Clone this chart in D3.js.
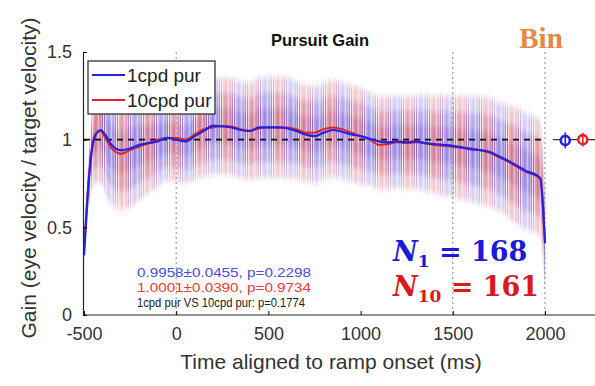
<!DOCTYPE html>
<html>
<head>
<meta charset="utf-8">
<script src="https://cdn.jsdelivr.net/npm/d3@7"></script>
<style>
  body { margin: 0; background: #fff; }
  text { font-family: "Liberation Sans", Arial, sans-serif; }
</style>
</head>
<body>
<div id="chart"></div>
<script>
// time points (ms) for the smoothed means
var times = [-500, -480, -460, -440, -410, -380, -350, -300, -250, -200, -150, -100, -50, 0, 50, 100, 150, 200, 250, 300, 350, 400, 450, 500, 550, 600, 650, 700, 750, 800, 850, 900, 950, 1000, 1050, 1100, 1150, 1200, 1250, 1300, 1350, 1400, 1450, 1500, 1550, 1600, 1650, 1700, 1750, 1800, 1850, 1900, 1950, 1975, 1990, 2000];

var gain1 = [0.34, 0.68, 0.92, 1.02, 1.055, 1.02, 0.97, 0.94, 0.95, 0.97, 0.98, 0.99, 1.01, 1.00, 0.99, 1.02, 1.05, 1.08, 1.075, 1.07, 1.055, 1.05, 1.07, 1.07, 1.07, 1.065, 1.05, 1.03, 1.02, 1.04, 1.055, 1.045, 1.03, 1.02, 1.005, 0.99, 0.985, 0.99, 0.985, 0.99, 0.98, 0.975, 0.97, 0.965, 0.955, 0.945, 0.94, 0.93, 0.905, 0.88, 0.85, 0.82, 0.80, 0.78, 0.60, 0.41];
var gain10 = [0.36, 0.70, 0.93, 1.03, 1.05, 1.00, 0.95, 0.92, 0.94, 0.96, 0.98, 1.00, 1.01, 1.01, 1.00, 1.03, 1.06, 1.07, 1.08, 1.075, 1.06, 1.05, 1.065, 1.07, 1.07, 1.07, 1.06, 1.04, 1.04, 1.06, 1.07, 1.06, 1.04, 1.02, 1.00, 0.97, 0.975, 0.985, 0.98, 0.985, 0.98, 0.97, 0.965, 0.96, 0.955, 0.95, 0.94, 0.925, 0.90, 0.875, 0.845, 0.815, 0.795, 0.775, 0.61, 0.42];
// half-width of the trial-to-trial spread
var spread = [0.03, 0.12, 0.2, 0.25, 0.27, 0.3, 0.3, 0.3, 0.3, 0.28, 0.26, 0.24, 0.22, 0.22, 0.22, 0.23, 0.24, 0.25, 0.25, 0.25, 0.25, 0.25, 0.26, 0.26, 0.26, 0.26, 0.25, 0.25, 0.25, 0.25, 0.25, 0.25, 0.25, 0.25, 0.24, 0.24, 0.24, 0.24, 0.24, 0.24, 0.25, 0.25, 0.26, 0.26, 0.27, 0.27, 0.28, 0.28, 0.28, 0.29, 0.3, 0.3, 0.3, 0.3, 0.28, 0.25];

var seriesNames = ["1cpd pur", "10cpd pur"];
var seriesColors = ["#2323e6", "#e62323"];
var binMeans = [0.9958, 1.0001];
var binErrs = [0.0455, 0.0390];
var binTimes = [2110, 2205];
var statLines = ["0.9958\u00b10.0455, p=0.2298", "1.0001\u00b10.0390, p=0.9734", "1cpd pur VS 10cpd pur: p=0.1774"];
var statColors = ["#4a4aee", "#ee3a3a", "#222"];
var xTicks = [-500, 0, 500, 1000, 1500, 2000];
var yTicks = [0, 0.5, 1, 1.5];
var vLines = [0, 1500, 2000];

var width = 595, height = 386;
var svg = d3.select("#chart").append("svg").attr("width", width).attr("height", height);

var x = d3.scaleLinear().domain([-500, 2000]).range([84, 545]);
var y = d3.scaleLinear().domain([0, 1.5]).range([315, 52]);

// stripe pattern + vertical blur for the noisy spread
var defs = svg.append("defs");
defs.append("filter").attr("id", "soft").append("feGaussianBlur").attr("stdDeviation", "0.3 2.5");
var ops = [0.55, 0.1, 0.3, 0.05, 0.65, 0.2, 0.4, 0.08, 0.5, 0.15, 0.25, 0.6, 0.05];
seriesColors.forEach(function(c, i) {
  var p = defs.append("pattern").attr("id", "stripe" + i)
    .attr("patternUnits", "userSpaceOnUse").attr("width", ops.length).attr("height", 40)
    .attr("x", i * 5);
  ops.forEach(function(o, k) {
    p.append("rect").attr("x", k).attr("y", 0).attr("width", 1).attr("height", 40)
      .attr("fill", c).attr("opacity", o);
  });
});

var means = [gain1, gain10];
var bands = svg.append("g").attr("filter", "url(#soft)");
[1, 0].forEach(function(i) {
  var m = means[i];
  [1.1, 0.75, 0.4].forEach(function(f) {
    var area = d3.area()
      .x(function(d, k) { return x(times[k]); })
      .y0(function(d, k) { return y(d - spread[k] * f); })
      .y1(function(d, k) { return y(d + spread[k] * f); })
      .curve(d3.curveMonotoneX);
    bands.append("path").datum(m).attr("d", area)
      .attr("fill", "url(#stripe" + i + ")").attr("opacity", 0.32);
  });
});

// vertical dotted markers
svg.selectAll(".vline").data(vLines).enter().append("line")
  .attr("x1", function(d) { return x(d); }).attr("x2", function(d) { return x(d); })
  .attr("y1", y(1.5)).attr("y2", y(0))
  .attr("stroke", "#999").attr("stroke-width", 1.2).attr("stroke-dasharray", "2,3");

// reference line at gain 1
svg.append("line").attr("x1", x(-500)).attr("x2", x(2000))
  .attr("y1", y(1)).attr("y2", y(1))
  .attr("stroke", "#111").attr("stroke-width", 1.6).attr("stroke-dasharray", "6,5");

// mean lines
var line = d3.line().x(function(d, k) { return x(times[k]); }).y(function(d) { return y(d); })
  .curve(d3.curveMonotoneX);
svg.append("path").datum(gain10).attr("d", line).attr("fill", "none")
  .attr("stroke", seriesColors[1]).attr("stroke-width", 2);
svg.append("path").datum(gain1).attr("d", line).attr("fill", "none")
  .attr("stroke", seriesColors[0]).attr("stroke-width", 2.2);

// binned means with error bars
svg.append("line").attr("x1", x(2000) + 8).attr("x2", 595).attr("y1", y(1)).attr("y2", y(1))
  .attr("stroke", "#333").attr("stroke-width", 1.4);
binMeans.forEach(function(m, i) {
  var cx = x(binTimes[i]), cy = y(m);
  svg.append("circle").attr("cx", cx).attr("cy", cy).attr("r", 4.5)
    .attr("fill", "#fff").attr("stroke", seriesColors[i]).attr("stroke-width", 2.6);
  svg.append("line").attr("x1", cx).attr("x2", cx)
    .attr("y1", y(m - binErrs[i])).attr("y2", y(m + binErrs[i]))
    .attr("stroke", seriesColors[i]).attr("stroke-width", 1.6);
});

// axes
var xAxis = d3.axisBottom(x).tickValues(xTicks).tickFormat(function(d) { return String(d); })
  .tickSizeInner(-4).tickSizeOuter(0).tickPadding(12);
var gx = svg.append("g").attr("transform", "translate(0," + y(0) + ")").call(xAxis);
gx.select(".domain").attr("d", "M" + (x(-500) - 1) + ",0H595").attr("stroke", "#262626").attr("stroke-width", 1.2);
gx.selectAll("text").attr("font-size", 18).attr("fill", "#333").attr("font-family", "Liberation Sans, Arial");

var yAxis = d3.axisLeft(y).tickValues(yTicks).tickFormat(function(d) { return String(d); })
  .tickSizeInner(-4).tickSizeOuter(-4).tickPadding(11);
var gy = svg.append("g").attr("transform", "translate(" + (x(-500) - 1) + ",0)").call(yAxis);
gy.select(".domain").attr("stroke", "#262626").attr("stroke-width", 1.2);
gy.selectAll("text").attr("font-size", 18).attr("fill", "#333").attr("font-family", "Liberation Sans, Arial");

// axis labels
svg.append("text").attr("x", 331).attr("y", 369).attr("text-anchor", "middle")
  .attr("font-size", 21).attr("fill", "#333").text("Time aligned to ramp onset (ms)");
svg.append("text").attr("transform", "translate(36,178) rotate(-90)").attr("text-anchor", "middle")
  .attr("font-size", 21).attr("fill", "#333").text("Gain (eye velocity / target velocity)");

// title
svg.append("text").attr("x", 320).attr("y", 46).attr("text-anchor", "middle")
  .attr("font-size", 16.5).attr("font-weight", "bold").attr("fill", "#111").text("Pursuit Gain");
svg.append("text").attr("x", 541).attr("y", 48).attr("text-anchor", "middle")
  .attr("font-size", 29).attr("font-weight", "bold").attr("fill", "#e8873e")
  .style("font-family", "Liberation Serif, serif").text("Bin");

// legend
var leg = svg.append("g");
leg.append("rect").attr("x", 88).attr("y", 61).attr("width", 127).attr("height", 53)
  .attr("fill", "#fff").attr("stroke", "#222").attr("stroke-width", 1.2);
seriesNames.forEach(function(n, i) {
  var ly = 75 + i * 25;
  leg.append("line").attr("x1", 92).attr("x2", 125).attr("y1", ly).attr("y2", ly)
    .attr("stroke", seriesColors[i]).attr("stroke-width", 2);
  leg.append("text").attr("x", 127).attr("y", ly + 7).attr("font-size", 19).attr("fill", "#222").text(n);
});

// stats text
statLines.forEach(function(s, i) {
  var t = svg.append("text").attr("x", 137).attr("y", 277 + i * 15).attr("font-size", 13.5)
    .attr("fill", statColors[i]).attr("textLength", i === 2 ? 168 : 174)
    .attr("lengthAdjust", "spacingAndGlyphs").text(s);
  if (i === 2) t.attr("font-size", 12);
});

// N labels
var nLabels = [{sub: "1", val: "168"}, {sub: "10", val: "161"}];
nLabels.forEach(function(d, i) {
  var t = svg.append("text").attr("x", 393).attr("y", 261 + i * 35)
    .attr("font-size", 27).attr("font-weight", "bold").attr("fill", i === 0 ? "#1a1ad8" : "#d81a1a")
    .style("font-family", "DejaVu Serif, serif");
  t.append("tspan").attr("font-style", "italic").text("N");
  t.append("tspan").attr("font-size", 17).attr("dy", 6).text(d.sub);
  t.append("tspan").attr("dy", -6).text(" = " + d.val);
});
</script>
</body>
</html>
